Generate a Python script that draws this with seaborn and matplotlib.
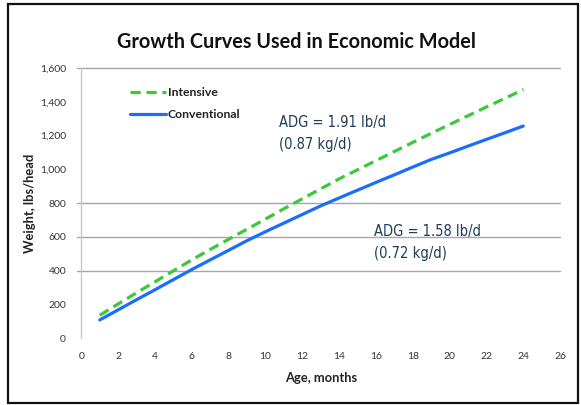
import matplotlib
matplotlib.use("Agg")
import matplotlib.pyplot as plt
import matplotlib.transforms as mtransforms
from matplotlib.patches import Rectangle
from matplotlib.lines import Line2D
from matplotlib import font_manager
import seaborn as sns
import pandas as pd

# Body weight (lbs/head) by age in months for the two growth programs
months = list(range(1, 25))
intensive = [135, 202, 268, 333, 398, 463, 525, 585, 645, 705, 766, 825,
             884, 943, 997, 1051, 1105, 1159, 1213, 1265, 1317, 1369, 1420, 1472]
conventional = [107, 167, 227, 286, 346, 406, 463, 520, 577, 630, 681, 732,
                783, 830, 876, 922, 967, 1013, 1058, 1097, 1137, 1177, 1216, 1256]

x_ticks = list(range(0, 27, 2))
y_ticks = list(range(0, 1601, 200))
y_grid = [400, 600, 800, 1600]

title = "Growth Curves Used in Economic Model"
x_label = "Age, months"
y_label = "Weight, lbs/head"
adg_intensive = "ADG = 1.91 lb/d\n(0.87 kg/d)"
adg_conventional = "ADG = 1.58 lb/d\n(0.72 kg/d)"

GREEN = "#3cc83c"
BLUE = "#1a6dff"
NAVY = "#1f3d5c"
GRID = "#a6a6a6"

sns.set_theme(style="white")
plt.rcParams["font.family"] = ["Lato", "DejaVu Sans"]

# A condensed face for the ADG notes, if one is installed
installed = {f.name for f in font_manager.fontManager.ttflist}
if "Liberation Sans Narrow" in installed:
    note_font = dict(family=["Liberation Sans Narrow"], stretch="normal", size=11.5)
elif "DejaVu Sans Condensed" in installed or any(
        f.name == "DejaVu Sans" and f.stretch == "condensed" for f in font_manager.fontManager.ttflist):
    note_font = dict(family=["DejaVu Sans"], stretch="condensed", size=10.5)
else:
    note_font = dict(family=["Roboto", "DejaVu Sans"], stretch="normal", size=10.5)

df = pd.DataFrame({"Age": months, "Intensive": intensive, "Conventional": conventional})

fig = plt.figure(figsize=(5.81, 4.05), dpi=100)
ax = fig.add_axes([0.140, 0.1654, 0.824, 0.6667])

sns.lineplot(data=df, x="Age", y="Intensive", ax=ax, color=GREEN, lw=2.3,
             linestyle="--", label="Intensive", legend=False)
sns.lineplot(data=df, x="Age", y="Conventional", ax=ax, color=BLUE, lw=2.3,
             label="Conventional", legend=False)
ax.lines[0].set_dashes((3.2, 1.8))

ax.set_xlim(0, 26)
ax.set_ylim(0, 1600)
ax.set_xticks(x_ticks)
ax.set_yticks(y_ticks)
ax.set_yticklabels([f"{v:,}" for v in y_ticks])

# Horizontal reference lines, extended slightly left of the axis
trans = mtransforms.blended_transform_factory(ax.transAxes, ax.transData)
for v in y_grid:
    ax.plot([-0.009, 1.0], [v, v], transform=trans, color=GRID, lw=1.0,
            clip_on=False, zorder=0.5)

for side in ["top", "right", "bottom"]:
    ax.spines[side].set_visible(False)
ax.spines["left"].set_color("#c8c8c8")
ax.spines["left"].set_linewidth(1.0)

ax.tick_params(axis="x", direction="out", length=4, width=1, color="#c8c8c8",
               labelsize=7.5, labelcolor="#333333", pad=6)
ax.tick_params(axis="y", length=0, labelsize=7.5, labelcolor="#333333", pad=11)

ax.set_xlabel(x_label, fontsize=9.3, fontweight="bold", color="#222222", labelpad=8)
ax.set_ylabel(y_label, fontsize=9.3, fontweight="bold", color="#222222", labelpad=3)

handles = [Line2D([], [], color=GREEN, lw=2.3, dashes=(3.2, 1.8)),
           Line2D([], [], color=BLUE, lw=2.3)]
leg = ax.legend(handles, ["Intensive", "Conventional"], loc="upper left",
                bbox_to_anchor=(0.078, 0.97), frameon=False, handlelength=3.0,
                handletextpad=0.1, labelspacing=0.9,
                prop={"weight": "bold", "size": 8.8})
for t in leg.get_texts():
    t.set_color("#222222")

for x0, y0, s in [(10.75, 1320, adg_intensive), (15.9, 675, adg_conventional)]:
    ax.text(x0, y0, s, color=NAVY, va="top", ha="left", linespacing=1.55,
            fontfamily=note_font["family"], fontstretch=note_font["stretch"],
            fontsize=note_font["size"])

fig.text(0.511, 0.896, title, ha="center", va="center", fontsize=14.3,
         fontweight="bold", color="#111111")

# Outer frame around the whole chart
fig.patches.append(Rectangle((0.013, 0.006), 0.981, 0.984, transform=fig.transFigure,
                             fill=False, edgecolor="#111111", lw=1.6))

fig.savefig("out.png", dpi=100)
